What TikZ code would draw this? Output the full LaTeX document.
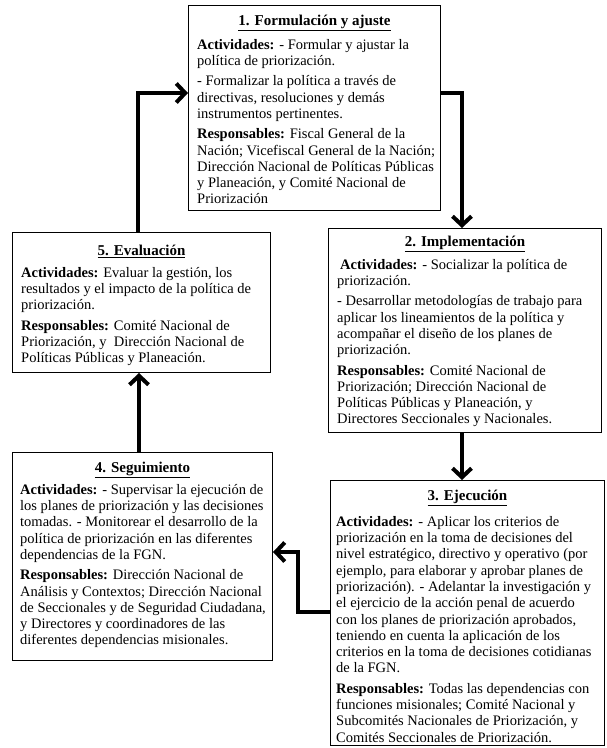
\documentclass[tikz,border=0pt]{standalone}
\usepackage{fontspec}
\setmainfont{Liberation Serif}
\usetikzlibrary{arrows.meta}
\begin{document}
\begin{tikzpicture}[x=1pt,y=-1pt,
  box/.style={draw, line width=1pt, anchor=north west, inner sep=0pt},
  ttl/.style={font=\fontsize{15}{17}\selectfont\bfseries, inner sep=0pt},
  body/.style={anchor=north west, inner sep=0pt, align=left, font=\fontsize{14.5}{16.3}\selectfont},
  arr/.style={line width=4pt, -{Straight Barb[length=9pt,width=19pt]}}]
\useasboundingbox (0,0) rectangle (607,748);

% boxes
\node[box, minimum width=252pt, minimum height=205pt] (b1) at (188,5) {};
\node[box, minimum width=273pt, minimum height=204pt] (b2) at (328,228) {};
\node[box, minimum width=274pt, minimum height=265pt] (b3) at (330,480) {};
\node[box, minimum width=260pt, minimum height=208pt] (b4) at (12,452) {};
\node[box, minimum width=258pt, minimum height=140pt] (b5) at (12,232) {};

% titles
\node[ttl] (t1) at ([yshift=-18pt]b1.north) {\underline{1. Formulación y ajuste}};
\node[ttl] (t2) at ([yshift=-16pt]b2.north) {\underline{2. Implementación}};
\node[ttl] (t3) at ([yshift=-18pt]b3.north) {\underline{3. Ejecución}};
\node[ttl] (t4) at ([yshift=-18pt]b4.north) {\underline{4. Seguimiento}};
\node[ttl] (t5) at ([yshift=-19pt]b5.north) {\underline{5. Evaluación}};

% bodies
\node[body] (x1) at ([xshift=9pt,yshift=-34pt]b1.north west) {%
\textbf{Actividades:} - Formular y ajustar la\\
política de priorización.\\[4pt]
- Formalizar la política a través de\\
directivas, resoluciones y demás\\
instrumentos pertinentes.\\[4pt]
\textbf{Responsables:} Fiscal General de la\\
Nación; Vicefiscal General de la Nación;\\
Dirección Nacional de Políticas Públicas\\
y Planeación, y Comité Nacional de\\
Priorización};

\node[body] (x2) at ([xshift=9pt,yshift=-31pt]b2.north west) {%
\hspace{3pt}\textbf{Actividades:} - Socializar la política de\\
priorización.\\[4pt]
- Desarrollar metodologías de trabajo para\\
aplicar los lineamientos de la política y\\
acompañar el diseño de los planes de\\
priorización.\\[4pt]
\textbf{Responsables:} Comité Nacional de\\
Priorización; Dirección Nacional de\\
Políticas Públicas y Planeación, y\\
Directores Seccionales y Nacionales.};

\node[body] (x3) at ([xshift=6pt,yshift=-36pt]b3.north west) {%
\textbf{Actividades:} - Aplicar los criterios de\\
priorización en la toma de decisiones del\\
nivel estratégico, directivo y operativo (por\\
ejemplo, para elaborar y aprobar planes de\\
priorización). - Adelantar la investigación y\\
el ejercicio de la acción penal de acuerdo\\
con los planes de priorización aprobados,\\
teniendo en cuenta la aplicación de los\\
criterios en la toma de decisiones cotidianas\\
de la FGN.\\[4pt]
\textbf{Responsables:} Todas las dependencias con\\
funciones misionales; Comité Nacional y\\
Subcomités Nacionales de Priorización, y\\
Comités Seccionales de Priorización.};

\node[body] (x4) at ([xshift=8pt,yshift=-32pt]b4.north west) {%
\textbf{Actividades:} - Supervisar la ejecución de\\
los planes de priorización y las decisiones\\
tomadas. - Monitorear el desarrollo de la\\
política de priorización en las diferentes\\
dependencias de la FGN.\\[4pt]
\textbf{Responsables:} Dirección Nacional de\\
Análisis y Contextos; Dirección Nacional\\
de Seccionales y de Seguridad Ciudadana,\\
y Directores y coordinadores de las\\
diferentes dependencias misionales.};

\node[body] (x5) at ([xshift=9pt,yshift=-35pt]b5.north west) {%
\textbf{Actividades:} Evaluar la gestión, los\\
resultados y el impacto de la política de\\
priorización.\\[4pt]
\textbf{Responsables:} Comité Nacional de\\
Priorización, y\ \ Dirección Nacional de\\
Políticas Públicas y Planeación.};

% connectors
\coordinate (p51) at (138,93);
\coordinate (p12) at (462,93);
\coordinate (p34a) at (298,612);
\coordinate (p34b) at (298,552);
\coordinate (p45) at (139,0);
\draw[arr] (b5.north -| p51) |- (b1.west |- p51);
\draw[arr] (b1.east |- p12) -| (b2.north -| p12);
\draw[arr] (b2.south -| p12) -- (b3.north -| p12);
\draw[arr] (b3.west |- p34a) -- (p34a) -- (p34b) -- (b4.east |- p34b);
\draw[arr] (b4.north -| p45) -- (b5.south -| p45);
\end{tikzpicture}
\end{document}
